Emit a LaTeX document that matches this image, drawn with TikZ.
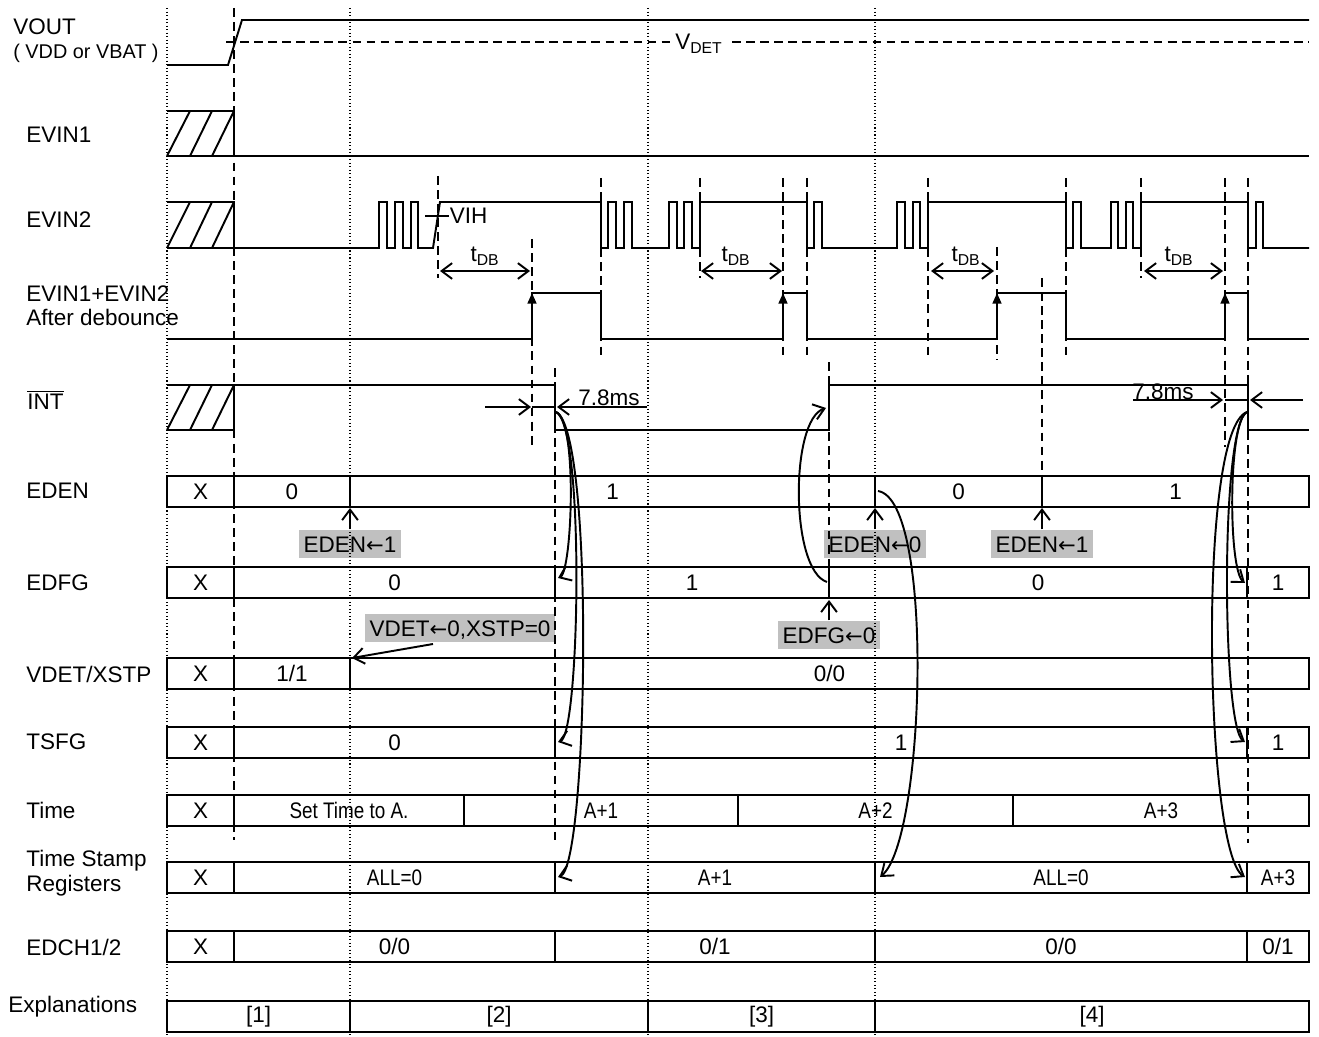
\documentclass[tikz,border=0pt]{standalone}
\usepackage{fontspec}
\usepackage{graphicx}
\setmainfont{Liberation Sans}
\newfontfamily\arrowfont{DejaVu Sans}
\usetikzlibrary{arrows.meta}

\definecolor{taggray}{RGB}{192,192,192}
\newcommand{\tighttext}[1]{\scalebox{0.84}[1]{#1}}
\newcommand{\getsarrow}{{\arrowfont\fontsize{12}{12}\selectfont ←}}

\tikzset{
  lbl/.style={anchor=west, inner sep=0pt, font=\fontsize{12.8}{14}\selectfont},
  val/.style={inner sep=0pt, font=\fontsize{12.8}{14}\selectfont},
  sig/.style={line width=1.1pt},
  regbox/.style={draw, line width=1.1pt},
  dotline/.style={line width=0.6pt, dash pattern=on 0.6pt off 1.4pt},
  vdash/.style={line width=0.9pt, dash pattern=on 5pt off 3pt},
  graytag/.style={fill=taggray, inner xsep=2.5pt, inner ysep=3.5pt, text height=9.2pt, text depth=0pt, font=\fontsize{12.8}{14}\selectfont},
  barb/.style={-{Straight Barb[length=6pt,width=9pt]}, line width=1.1pt},
  dbarb/.style={{Straight Barb[length=6pt,width=9pt]}-{Straight Barb[length=6pt,width=9pt]}, line width=1.1pt},
  risearrow/.style={-{Triangle[length=6pt,width=5pt]}, line width=1.1pt},
}

\begin{document}
\begin{tikzpicture}[x=0.02cm, y=-0.02cm]
\useasboundingbox (0,0) rectangle (1319,1037);

% Signal names
\node[lbl] (lvout) at (13,27) {VOUT};
\node[lbl, font=\fontsize{11.3}{13}\selectfont] (lvsrc) at (13,53) {( VDD or VBAT )};
\foreach \y/\nm/\txt in {135/levin1/EVIN1, 220/levin2/EVIN2, 294/ldeb1/EVIN1+EVIN2,
    317/ldeb2/After debounce, 491/leden/EDEN, 583/ledfg/EDFG, 674/lvdet/{VDET/XSTP},
    742/ltsfg/TSFG, 810/ltime/Time, 861/lstmp1/Time Stamp, 886/lstmp2/Registers,
    947/ledch/{EDCH1/2}}
  \node[lbl] (\nm) at (26,\y) {\txt};
\node[lbl] (lint) at (27,400) {$\overline{\mbox{INT}}$};
\node[lbl] (lexpl) at (8,1007) {Explanations};

% Register rows: top / cells (left/right/text)
\foreach \yt/\cells in {
    476/{167/234/X, 234/350/0, 350/875/1, 875/1042/0, 1042/1309/1},
    567/{167/234/X, 234/555/0, 555/829/1, 829/1247/0, 1247/1309/1},
    658/{167/234/X, 234/350/{1/1}, 350/1309/{0/0}},
    727/{167/234/X, 234/555/0, 555/1247/1, 1247/1309/1},
    795/{167/234/X, 234/464/{\tighttext{Set Time to A.}}, 464/738/{\tighttext{A+1}},
         738/1013/{\tighttext{A+2}}, 1013/1309/{\tighttext{A+3}}},
    862/{167/234/X, 234/555/{\tighttext{ALL=0}}, 555/875/{\tighttext{A+1}},
         875/1247/{\tighttext{ALL=0}}, 1247/1309/{\tighttext{A+3}}},
    931/{167/234/X, 234/555/{0/0}, 555/875/{0/1}, 875/1247/{0/0}, 1247/1309/{0/1}},
    1001/{167/350/{[1]}, 350/648/{[2]}, 648/875/{[3]}, 875/1309/{[4]}}}{
  \foreach \a/\b/\t [count=\i] in \cells {
    \draw[regbox] (\a,\yt) rectangle (\b,\yt+31);
    \node[val] (c\yt-\i) at ({(\a+\b)/2},\yt+15.5) {\t};
  }
}

% VOUT
\draw[sig] (167,65) -- (228,65) -- (242,20) -- (1309,20);
\draw[vdash] (226,42) -- (1309,42);

% Unknown levels before power-up
\foreach \yt/\yb in {111/156, 202/248, 385/430}{
  \draw[sig] (167,\yt) -- (234,\yt) -- (234,\yb) -- (167,\yb);
  \foreach \a/\b in {167/190, 190/212, 212/234}
    \draw[sig] (\a,\yb) -- (\b,\yt);
}

% EVIN1 and EVIN2
\draw[sig] (234,156) -- (1309,156);
\draw[sig] (234,248)
  foreach \a/\c/\b in {379/379/387, 395/395/403, 411/411/418, 433/440/601,
     608/608/616, 624/624/632, 669/669/677, 684/684/692, 700/700/807,
     814/814/822, 897/897/905, 913/913/920, 928/928/1066, 1073/1073/1081,
     1111/1111/1118, 1126/1126/1133, 1141/1141/1248, 1256/1256/1263}
  { -- (\a,248) -- (\c,202) -- (\b,202) -- (\b,248) }
  -- (1309,248);
\draw[sig] (425,216) -- (449,216) node[lbl] (vih) {VIH};

% Debounce times
\foreach \a/\b/\m [count=\i] in {440/530/485, 701/782/736, 931/994/966, 1144/1223/1179}{
  \draw[dbarb] (\a,271) -- (\b,271);
  \node[val] (tdb\i) at (\m,256) {t\textsubscript{DB}};
}

% After debounce
\draw[sig] (167,339) -- (532,339) -- (532,293) -- (601,293) -- (601,339)
  -- (783,339) -- (783,293) -- (807,293) -- (807,339) -- (997,339) -- (997,293)
  -- (1066,293) -- (1066,339) -- (1225,339) -- (1225,293) -- (1248,293)
  -- (1248,339) -- (1309,339);
\foreach \x in {532,783,997,1225}
  \draw[risearrow] (\x,339) -- (\x,293);

% INT
\draw[sig] (234,385) -- (555,385) -- (555,430) -- (829,430) -- (829,385)
  -- (1248,385) -- (1248,430) -- (1309,430);
\draw[barb] (485,407) -- (531,407);
\draw[line width=0.6pt] (532,407) -- (555,407);
\draw[barb] (647,407) -- (557,407);
\node[val] (ms1) at (609,398) {7.8ms};
\draw[barb] (1133,400) -- (1223,400);
\draw[line width=0.6pt] (1225,400) -- (1248,400);
\draw[barb] (1303,400) -- (1250,400);
\node[val] (ms2) at (1163,392) {7.8ms};

% Register writes
\node[graytag] (setEden1) at (350,544) {EDEN\getsarrow1};
\node[graytag] (clrEden) at (875,544) {EDEN\getsarrow0};
\node[graytag] (setEden2) at (1042,544) {EDEN\getsarrow1};
\node[graytag] (clrEdfg) at (829,635) {EDFG\getsarrow0};
\node[graytag] (clrVdet) at (460,628) {VDET\getsarrow0,XSTP=0};
\coordinate (vdetFrom) at (433,644);
\draw[barb] (setEden1.north) -- (350,508);
\draw[barb] (clrEden.north) -- (875,508);
\draw[barb] (setEden2.north) -- (1042,508);
\draw[barb] (clrEdfg.north) -- (829,600);
\draw[barb] (vdetFrom) -- (352,658);

% Guide lines
\foreach \x in {167,350,648,875}
  \draw[dotline] (\x,8) -- (\x,1037);
\foreach \x/\ya/\yb in {234/8/840, 438/176/278, 532/239/445, 555/368/840,
    601/178/358, 700/178/278, 783/178/358, 807/178/358, 829/362/567,
    928/178/358, 997/247/360, 1042/278/476, 1066/178/358, 1141/178/278,
    1225/178/447, 1248/178/843}
  \draw[vdash] (\x,\ya) -- (\x,\yb);
\node[fill=white, inner sep=3pt, font=\fontsize{12.8}{14}\selectfont] (vdet) at (699,44) {V\textsubscript{DET}};

% Cause and effect
\coordinate (fallL) at (556,412);
\coordinate (fallR) at (1247,412);
\coordinate (riseM) at (826,408);
\coordinate (edfgL) at (558,578);
\coordinate (edfgM) at (827,582);
\coordinate (edfgR) at (1245,583);
\coordinate (tsfgL) at (558,742);
\coordinate (tsfgR) at (1245,742);
\coordinate (stmpL) at (558,877);
\coordinate (stmpM) at (880,877);
\coordinate (stmpR) at (1245,877);
\coordinate (edenM) at (878,491);
\draw[barb] (fallL) .. controls +(22,8) and +(14,-6) .. (edfgL);
\draw[barb] (fallL) .. controls +(29,13) and +(22,-7) .. (tsfgL);
\draw[barb] (fallL) .. controls +(39,18) and +(30,-10) .. (stmpL);
\draw[barb] (fallR) .. controls +(-19,8) and +(-17,-13) .. (edfgR);
\draw[barb] (fallR) .. controls +(-27,13) and +(-23,-15) .. (tsfgR);
\draw[barb] (fallR) .. controls +(-50,18) and +(-40,-25) .. (stmpR);
\draw[barb] (edfgM) .. controls +(-37,-12) and +(-36,12) .. (riseM);
\draw[barb] (edenM) .. controls +(57,9) and +(45,-37) .. (stmpM);

\end{tikzpicture}
\end{document}
